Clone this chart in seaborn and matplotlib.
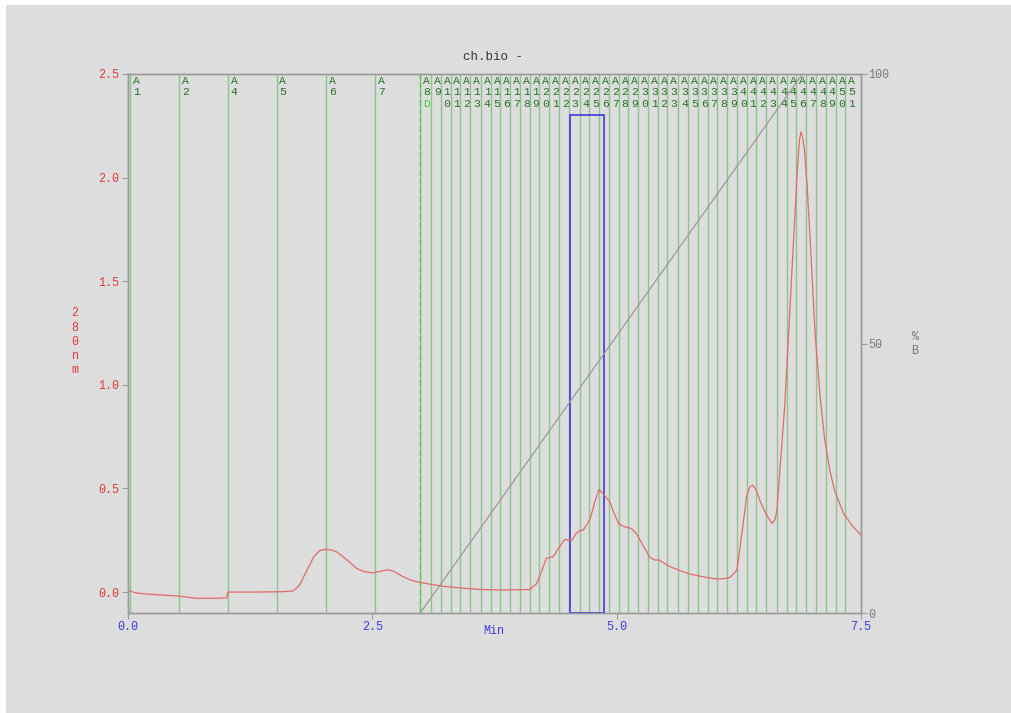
import numpy as np
import pandas as pd
import matplotlib
matplotlib.use("Agg")
import matplotlib.pyplot as plt
from matplotlib.patches import Rectangle
import seaborn as sns

# ---------------- data ----------------
trace_min = [0.00, 0.02, 0.08, 0.20, 0.53, 0.70, 0.90, 1.01, 1.02, 1.03, 1.30, 1.60, 1.69,
             1.75, 1.82, 1.90, 1.96, 2.02, 2.08, 2.14, 2.24, 2.34, 2.42, 2.51, 2.58, 2.66,
             2.72, 2.80, 2.88, 2.95, 3.10, 3.26, 3.45, 3.60, 3.81, 4.11, 4.18, 4.24, 4.28,
             4.35, 4.41, 4.47, 4.54, 4.58, 4.62, 4.66, 4.70, 4.73, 4.78, 4.82, 4.86, 4.90,
             4.93, 4.97, 5.02, 5.08, 5.15, 5.20, 5.27, 5.34, 5.39, 5.44, 5.50, 5.55, 5.65,
             5.75, 5.90, 6.02, 6.10, 6.16, 6.20, 6.23, 6.28, 6.33, 6.36, 6.39, 6.43, 6.47,
             6.53, 6.59, 6.62, 6.64, 6.67, 6.72, 6.76, 6.81, 6.85, 6.87, 6.886, 6.90, 6.92,
             6.95, 6.98, 7.03, 7.08, 7.13, 7.18, 7.23, 7.32, 7.41, 7.50]
trace_abs = [0.010, 0.005, -0.004, -0.010, -0.020, -0.030, -0.030, -0.028, -0.002, 0.000,
             0.000, 0.002, 0.006, 0.030, 0.095, 0.170, 0.200, 0.206, 0.203, 0.193, 0.155,
             0.114, 0.098, 0.093, 0.100, 0.108, 0.100, 0.078, 0.060, 0.050, 0.037, 0.026,
             0.018, 0.013, 0.010, 0.012, 0.040, 0.110, 0.163, 0.170, 0.215, 0.254, 0.248,
             0.280, 0.296, 0.300, 0.330, 0.355, 0.440, 0.496, 0.475, 0.452, 0.436, 0.385,
             0.330, 0.315, 0.307, 0.283, 0.225, 0.167, 0.155, 0.154, 0.135, 0.122, 0.103,
             0.087, 0.072, 0.063, 0.065, 0.071, 0.090, 0.106, 0.280, 0.460, 0.505, 0.516,
             0.490, 0.436, 0.375, 0.331, 0.350, 0.396, 0.589, 0.900, 1.250, 1.700, 2.050,
             2.180, 2.220, 2.200, 2.140, 1.950, 1.700, 1.250, 0.950, 0.730, 0.590, 0.490,
             0.380, 0.320, 0.275]

gradient_min = [2.99, 6.90, 7.50]
gradient_pctB = [0, 100, 100]

fraction_names = ["1", "2", "4", "5", "6", "7", "8"] + [str(n) for n in range(9, 52)]
fraction_min = [0.02, 0.52, 1.02, 1.52, 2.03, 2.53, 2.99,
                3.10, 3.20, 3.30, 3.40, 3.50, 3.61, 3.71, 3.81, 3.91, 4.01, 4.11, 4.21,
                4.31, 4.41, 4.51, 4.62, 4.72, 4.82, 4.92, 5.02, 5.12, 5.22, 5.32, 5.42,
                5.52, 5.63, 5.73, 5.83, 5.93, 6.03, 6.13, 6.23, 6.33, 6.43, 6.53, 6.64,
                6.74, 6.84, 6.94, 7.04, 7.14, 7.24, 7.34]

inject_min = 2.985
box_min = [4.52, 4.87]
box_top = 2.30

x_ticks = [0.0, 2.5, 5.0, 7.5]
y_ticks = [0.0, 0.5, 1.0, 1.5, 2.0, 2.5]
y2_ticks = [0, 50, 100]

# ---------------- style ----------------
sns.set_theme(style="white")
plt.rcParams['font.family'] = ['Liberation Mono', 'DejaVu Sans Mono']

BG = "#dddddd"
RED = "#e06a6a"
RED_T = "#dd3b3b"
BLUE = "#3a3ae0"
GREEN_L = "#8cc48c"
GREEN_D = "#2a6f2a"
GREEN_B = "#33d033"
GRAY = "#9a9a9a"
GRAY_T = "#7a7a7a"

fig = plt.figure(figsize=(10.11, 7.13), dpi=100)
fig.patch.set_facecolor("white")
fig.patches.append(Rectangle((6 / 1011, 0), 1, 1 - 5 / 713, transform=fig.transFigure,
                             facecolor=BG, edgecolor="none", zorder=-10))

ax = fig.add_axes([128 / 1011, 1 - 613 / 713, (861 - 128) / 1011, (613 - 74) / 713])
ax.set_facecolor(BG)
ax.set_xlim(0, 7.5)
ax.set_ylim(-0.101, 2.5)

# fraction lines and labels
for name, xm in zip(fraction_names, fraction_min):
    ax.axvline(xm, color=GREEN_L, lw=1.0, zorder=1)
    lab = "A\n" + "\n".join(list(name))
    ax.text(xm + 0.03, 0.997, lab, transform=ax.get_xaxis_transform(), ha="left", va="top",
            fontsize=8.2, color=GREEN_D, linespacing=1.22, zorder=5)
ax.axvline(inject_min, color=GREEN_B, lw=0.9, ls=(0, (5, 2)), zorder=2, alpha=0.8)
ax.text(inject_min + 0.03, 1 - (99 - 74) / 539, "D", transform=ax.get_xaxis_transform(),
        ha="left", va="top", fontsize=8.2, color=GREEN_B, zorder=4)

# fraction box
ax.add_patch(Rectangle((box_min[0], -0.101), box_min[1] - box_min[0], box_top + 0.101,
                       fill=False, edgecolor=BLUE, lw=1.2, zorder=6))

# trace
df = pd.DataFrame({"min": trace_min, "abs": trace_abs})
sns.lineplot(data=df, x="min", y="abs", ax=ax, color=RED, lw=0.9, sort=False, zorder=7)

# gradient on twin axis
ax2 = ax.twinx()
ax2.set_ylim(0, 100)
gdf = pd.DataFrame({"min": gradient_min, "b": gradient_pctB})
sns.lineplot(data=gdf, x="min", y="b", ax=ax2, color=GRAY, lw=0.9, zorder=3)
ax2.set_xlim(0, 7.5)

# axes styling
for a in (ax, ax2):
    for s in a.spines.values():
        s.set_color(GRAY)
        s.set_linewidth(1.0)
ax.set_xticks(x_ticks)
ax.set_xticklabels([f"{v:.1f}" for v in x_ticks], color=BLUE, fontsize=8.5)
ax.set_yticks(y_ticks)
ax.set_yticklabels([f"{v:.1f}" for v in y_ticks], color=RED_T, fontsize=8.5)
ax.tick_params(axis="both", direction="out", length=4, width=0.8, color=GRAY, pad=2,
               bottom=True, left=True)
ax2.set_yticks(y2_ticks)
ax2.set_yticklabels([str(v) for v in y2_ticks], color=GRAY_T, fontsize=8.5)
ax2.tick_params(axis="y", direction="out", length=4, width=0.8, color=GRAY, pad=1, right=True)
ax.set_xlabel("")
ax.set_ylabel("")
ax2.set_ylabel("")
ax.grid(False)
ax2.grid(False)

# texts
fig.text(75 / 1011, 1 - 342 / 713, "2\n8\n0\nn\nm", ha="center", va="center",
         color=RED_T, fontsize=8.5, linespacing=1.25)
fig.text(915 / 1011, 1 - 344 / 713, "%\nB", ha="center", va="center",
         color=GRAY_T, fontsize=8.5, linespacing=1.2)
fig.text(494 / 1011, 1 - 631 / 713, "Min", ha="center", va="center", color=BLUE, fontsize=8.5)
fig.text(493 / 1011, 1 - 57 / 713, "ch.bio -", ha="center", va="center", color="#333333",
         fontsize=9)

fig.savefig("out.png", dpi=100, facecolor=fig.get_facecolor())
